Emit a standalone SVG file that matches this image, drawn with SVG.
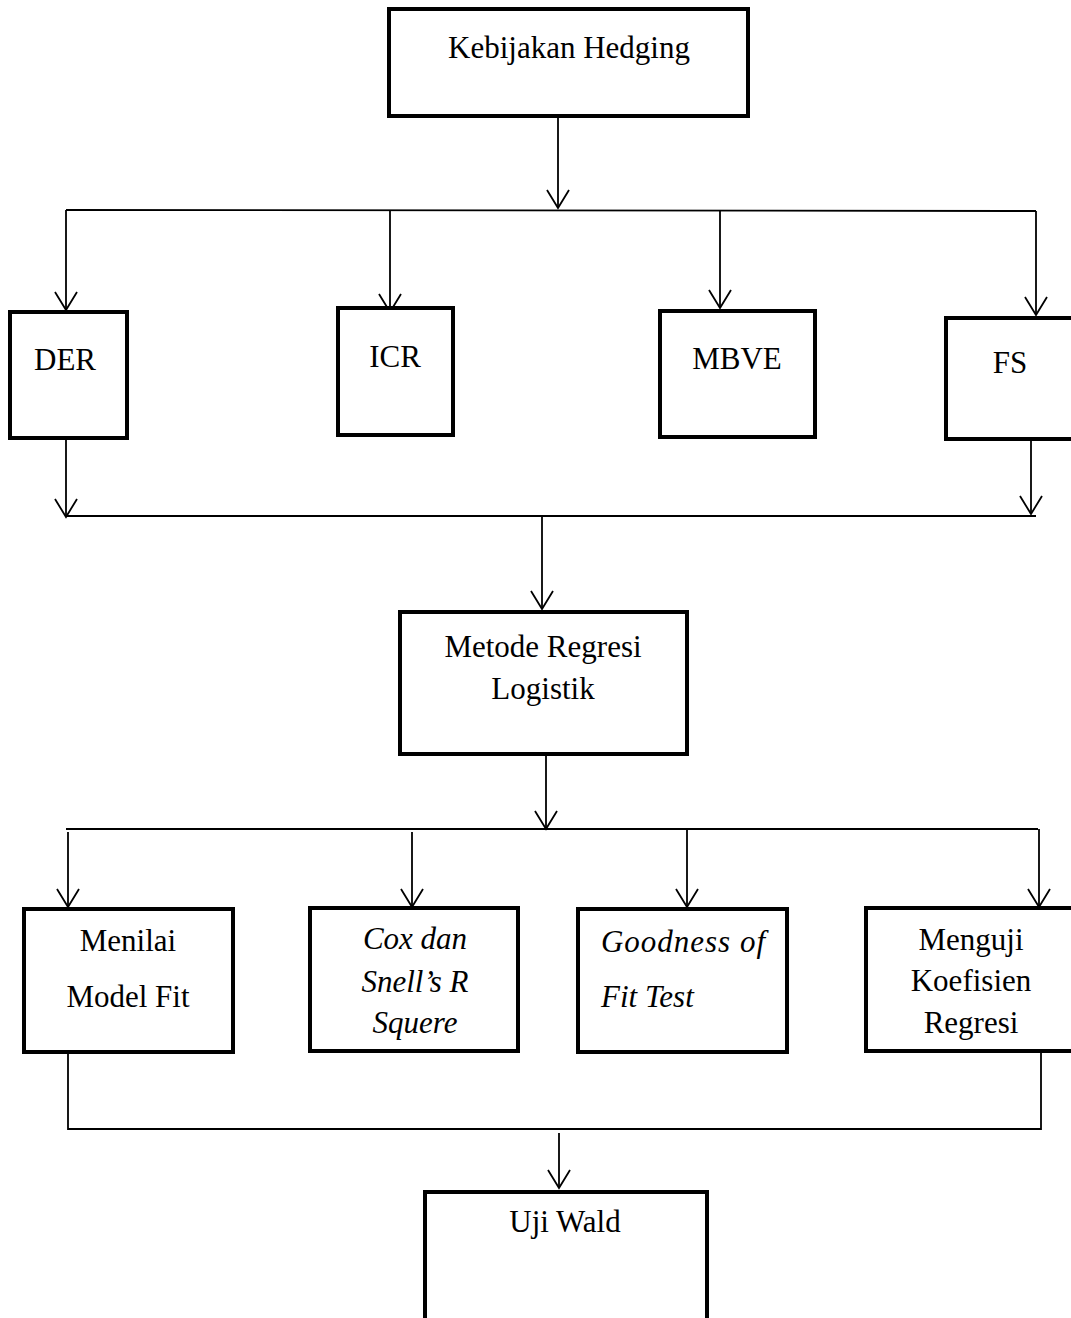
<svg xmlns="http://www.w3.org/2000/svg" width="1071" height="1318" viewBox="0 0 1071 1318">
<style>
.box{fill:#fff;stroke:#000;stroke-width:4}
.t{font-family:"Liberation Serif","Times New Roman",serif;font-size:31px;fill:#000;text-anchor:middle}
.i{font-style:italic}
.c{fill:none;stroke:#000;stroke-width:1.8}
</style>
<defs>
<marker id="ah" viewBox="0 0 18 22" refX="18" refY="11" markerWidth="18" markerHeight="22" markerUnits="userSpaceOnUse" orient="auto" overflow="visible">
<path d="M0,0 L18,11 L0,22" fill="none" stroke="#000" stroke-width="1.8"/>
</marker>
</defs>
<g id="connectors">
<line class="c" x1="558" y1="117" x2="558" y2="208" marker-end="url(#ah)"/>
<line class="c" x1="66" y1="210" x2="1036" y2="211"/>
<line class="c" x1="66" y1="210" x2="66" y2="310" marker-end="url(#ah)"/>
<line class="c" x1="390" y1="210" x2="390" y2="312" marker-end="url(#ah)"/>
<line class="c" x1="720" y1="211" x2="720" y2="308" marker-end="url(#ah)"/>
<line class="c" x1="1036" y1="211" x2="1036" y2="315" marker-end="url(#ah)"/>
<line class="c" x1="66" y1="439" x2="66" y2="517" marker-end="url(#ah)"/>
<line class="c" x1="1031" y1="440" x2="1031" y2="514" marker-end="url(#ah)"/>
<line class="c" x1="66" y1="516" x2="1036" y2="516"/>
<line class="c" x1="542" y1="516" x2="542" y2="609" marker-end="url(#ah)"/>
<line class="c" x1="546" y1="755" x2="546" y2="829" marker-end="url(#ah)"/>
<line class="c" x1="66" y1="829" x2="1038" y2="829"/>
<line class="c" x1="68" y1="832" x2="68" y2="907" marker-end="url(#ah)"/>
<line class="c" x1="412" y1="832" x2="412" y2="907" marker-end="url(#ah)"/>
<line class="c" x1="687" y1="829" x2="687" y2="907" marker-end="url(#ah)"/>
<line class="c" x1="1039" y1="829" x2="1039" y2="907" marker-end="url(#ah)"/>
<polyline class="c" points="68,1053 68,1129 1041,1129 1041,1052"/>
<line class="c" x1="559" y1="1133" x2="559" y2="1188" marker-end="url(#ah)"/>
</g>
<g id="kebijakan">
<rect class="box" x="389" y="9" width="359" height="107"/>
<text class="t" x="569" y="58">Kebijakan Hedging</text>
</g>
<g id="der">
<rect class="box" x="10" y="312" width="117" height="126"/>
<text class="t" x="65" y="370">DER</text>
</g>
<g id="icr">
<rect class="box" x="338" y="308" width="115" height="127"/>
<text class="t" x="395" y="367">ICR</text>
</g>
<g id="mbve">
<rect class="box" x="660" y="311" width="155" height="126"/>
<text class="t" x="737" y="369">MBVE</text>
</g>
<g id="fs">
<rect class="box" x="946" y="318" width="140" height="121"/>
<text class="t" x="1010" y="373">FS</text>
</g>
<g id="metode">
<rect class="box" x="400" y="612" width="287" height="142"/>
<text class="t" x="543" y="657">Metode Regresi</text>
<text class="t" x="543" y="699">Logistik</text>
</g>
<g id="menilai">
<rect class="box" x="24" y="909" width="209" height="143"/>
<text class="t" x="128" y="951">Menilai</text>
<text class="t" x="128" y="1007">Model Fit</text>
</g>
<g id="cox">
<rect class="box" x="310" y="908" width="208" height="143"/>
<text class="t i" x="415" y="949">Cox dan</text>
<text class="t i" x="415" y="992">Snell’s R</text>
<text class="t i" x="415" y="1033">Squere</text>
</g>
<g id="goodness">
<rect class="box" x="578" y="909" width="209" height="143"/>
<text class="t i" x="601" y="952" style="text-anchor:start" textLength="164" lengthAdjust="spacing">Goodness  of</text>
<text class="t i" x="601" y="1007" style="text-anchor:start">Fit Test</text>
</g>
<g id="menguji">
<rect class="box" x="866" y="908" width="220" height="143"/>
<text class="t" x="971" y="950">Menguji</text>
<text class="t" x="971" y="991">Koefisien</text>
<text class="t" x="971" y="1033">Regresi</text>
</g>
<g id="ujiwald">
<rect class="box" x="425" y="1192" width="282" height="140"/>
<text class="t" x="565" y="1232">Uji Wald</text>
</g>
</svg>
